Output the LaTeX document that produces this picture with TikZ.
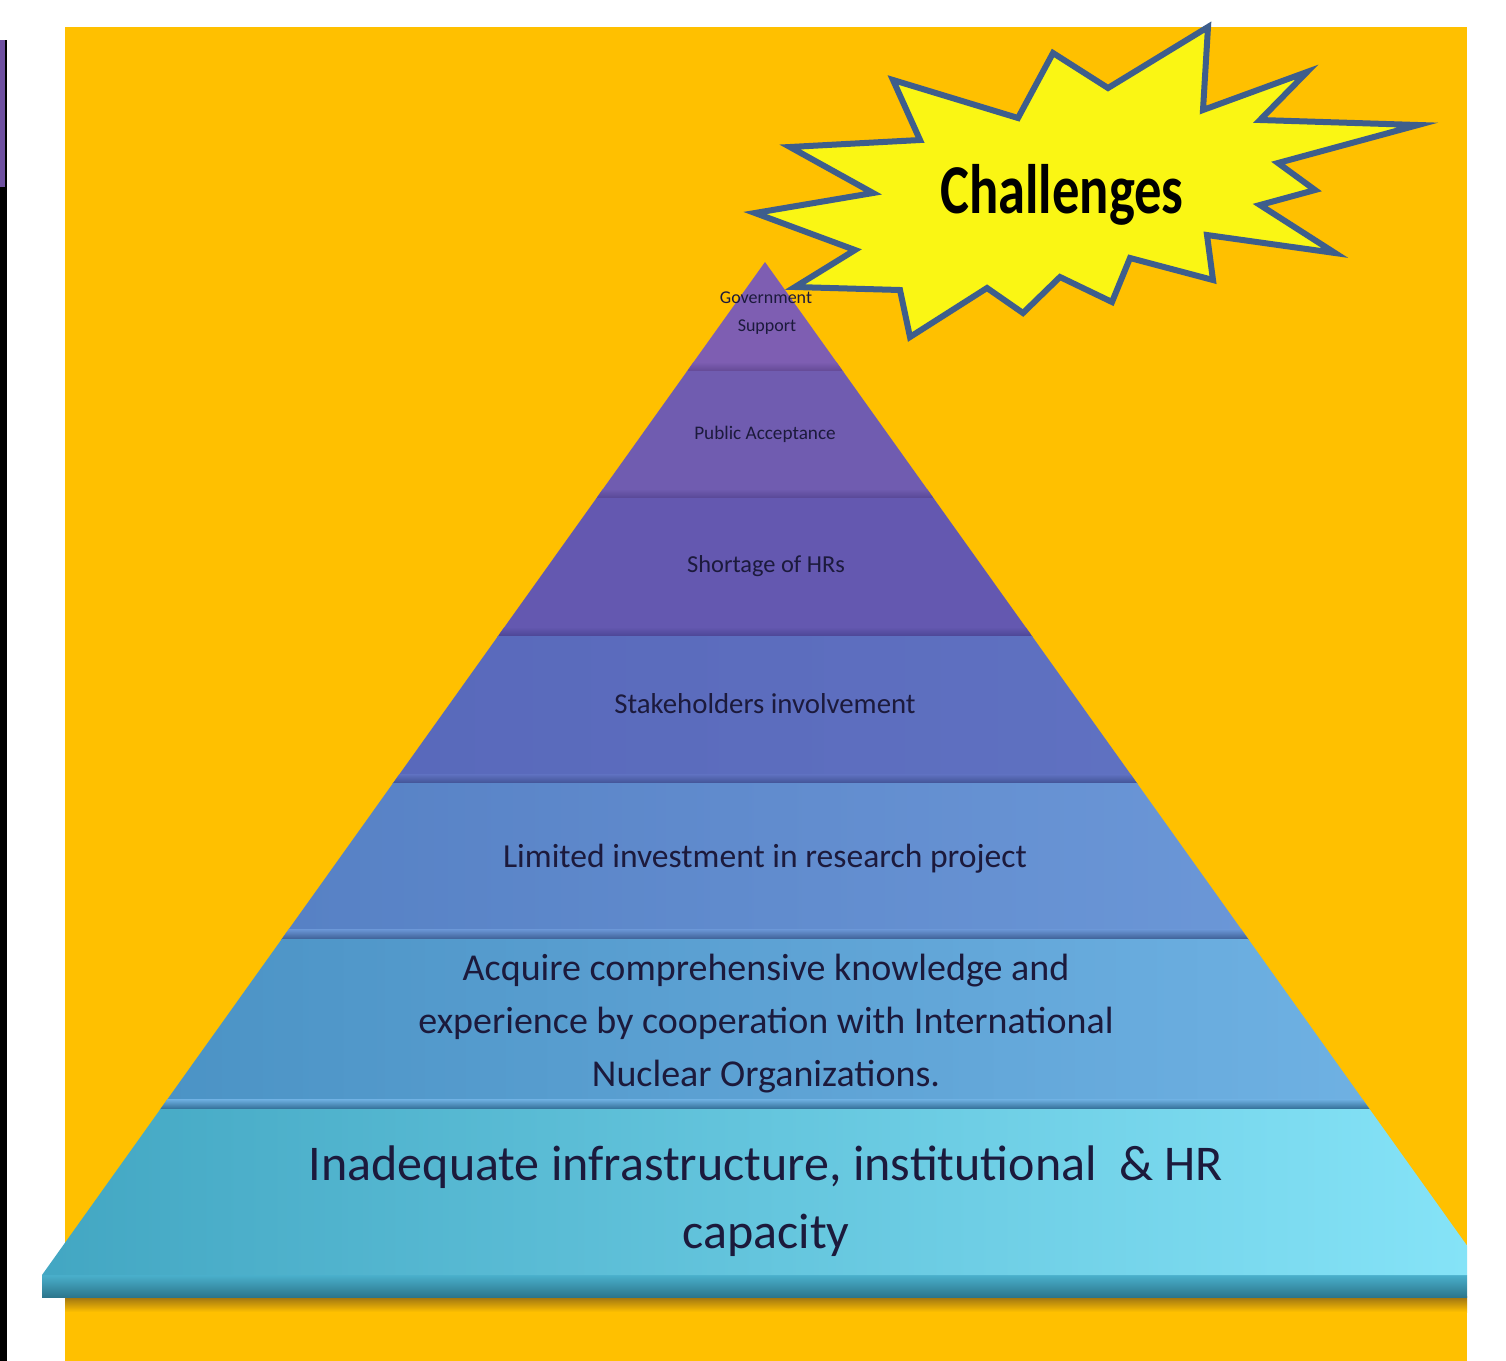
\documentclass[tikz,border=0pt]{standalone}
\usepackage{fontspec}
\setmainfont{Carlito}
\definecolor{bgorange}{RGB}{255,192,0}
\definecolor{sidepurple}{RGB}{110,80,160}
\definecolor{shadowc}{RGB}{150,110,20}
\definecolor{txtc}{RGB}{28,26,60}
\definecolor{burstfill}{RGB}{250,246,20}
\definecolor{burstline}{RGB}{62,94,140}
\definecolor{bA}{RGB}{126,94,178}
\definecolor{bAd}{RGB}{100,74,150}
\definecolor{bB}{RGB}{112,92,176}
\definecolor{bBd}{RGB}{88,72,150}
\definecolor{bC}{RGB}{100,88,176}
\definecolor{bCd}{RGB}{76,70,150}
\definecolor{bDl}{RGB}{88,104,186}
\definecolor{bDr}{RGB}{96,114,194}
\definecolor{bDd}{RGB}{66,84,150}
\definecolor{bEl}{RGB}{86,128,196}
\definecolor{bEr}{RGB}{108,152,216}
\definecolor{bEd}{RGB}{62,96,150}
\definecolor{bFl}{RGB}{74,146,196}
\definecolor{bFr}{RGB}{112,178,228}
\definecolor{bFd}{RGB}{50,110,150}
\definecolor{bGl}{RGB}{66,166,194}
\definecolor{bGr}{RGB}{134,228,248}
\definecolor{slabT}{RGB}{74,176,204}
\definecolor{slabB}{RGB}{44,118,140}
\begin{document}
\begin{tikzpicture}[x=0.5pt,y=-0.5pt,
  lbl/.style={text=txtc, inner sep=0pt, anchor=base}]
\useasboundingbox (0,0) rectangle (1506,1361);
\fill[white] (0,0) rectangle (1506,1361);
\fill[black] (0,40) rectangle (7,1361);
\fill[sidepurple] (0,40) rectangle (5,187);
\fill[bgorange] (65,27) rectangle (1467,1361);
% shadow below slab
\shade[top color=shadowc, bottom color=bgorange] (65,1296) rectangle (1467,1312);
% slab
\shade[top color=slabT, bottom color=slabB] (42,1275) rectangle (1467,1297);
% pyramid bands
\begin{scope}
\clip (0,0) rectangle (1467,1361);
\clip (765,262) -- (42,1275) -- (1488,1275) -- cycle;
\fill[bA] (0,250) rectangle (1506,370);
\shade[top color=bA, bottom color=bAd] (0,362) rectangle (1506,371);
\fill[bB] (0,371) rectangle (1506,497);
\shade[top color=bB, bottom color=bBd] (0,489) rectangle (1506,498);
\fill[bC] (0,498) rectangle (1506,635);
\shade[top color=bC, bottom color=bCd] (0,627) rectangle (1506,636);
\shade[left color=bDl, right color=bDr] (300,636) rectangle (1230,782);
\shade[top color=bDr, bottom color=bDd] (300,774) rectangle (1230,783);
\shade[left color=bEl, right color=bEr] (250,783) rectangle (1300,938);
\shade[top color=bEr, bottom color=bEd] (250,929) rectangle (1300,939);
\shade[left color=bFl, right color=bFr] (120,939) rectangle (1420,1108);
\shade[top color=bFr, bottom color=bFd] (120,1099) rectangle (1420,1109);
\shade[left color=bGl, right color=bGr] (30,1109) rectangle (1490,1276);
\end{scope}
% starburst
\draw[burstline, line width=3pt, line join=miter, fill=burstfill]
  (1053,53) -- (1108,88) -- (1208,27) -- (1203,110) -- (1307,72) -- (1260,120)
  -- (1418,125) -- (1278,163) -- (1315,190) -- (1260,205) -- (1335,253)
  -- (1207,235) -- (1213,280) -- (1130,258) -- (1112,302) -- (1060,277)
  -- (1023,313) -- (987,288) -- (910,337) -- (900,290) -- (795,287)
  -- (855,250) -- (755,213) -- (873,193) -- (790,147) -- (920,140)
  -- (893,80) -- (1018,118) -- cycle;
\node[inner sep=0pt, anchor=base, xscale=0.78, transform shape, font=\fontsize{35}{40}\selectfont\bfseries] (ch) at (1062,213) {Challenges};
% labels
\node[lbl, font=\fontsize{9}{11}\selectfont] (g1) at (766,303) {Government};
\node[lbl, font=\fontsize{9}{11}\selectfont] (g2) at (767,331) {Support};
\node[lbl, font=\fontsize{9.6}{11}\selectfont] (pa) at (765,439) {Public Acceptance};
\node[lbl, font=\fontsize{12.2}{14}\selectfont] (sh) at (766,572) {Shortage of HRs};
\node[lbl, font=\fontsize{14.4}{17}\selectfont] (st) at (765,713) {Stakeholders involvement};
\node[lbl, font=\fontsize{16.8}{20}\selectfont] (li) at (765,867) {Limited investment in research project};
\node[lbl, font=\fontsize{19}{22}\selectfont] (ac1) at (766,980) {Acquire comprehensive knowledge and};
\node[lbl, font=\fontsize{19}{22}\selectfont] (ac2) at (766,1033) {experience by cooperation with International};
\node[lbl, font=\fontsize{19}{22}\selectfont] (ac3) at (766,1086) {Nuclear Organizations.};
\node[lbl, font=\fontsize{25}{30}\selectfont] (in1) at (766,1180) {Inadequate infrastructure, institutional\ \ \& HR};
\node[lbl, font=\fontsize{25}{30}\selectfont] (in2) at (766,1248) {capacity};
\end{tikzpicture}
\end{document}
